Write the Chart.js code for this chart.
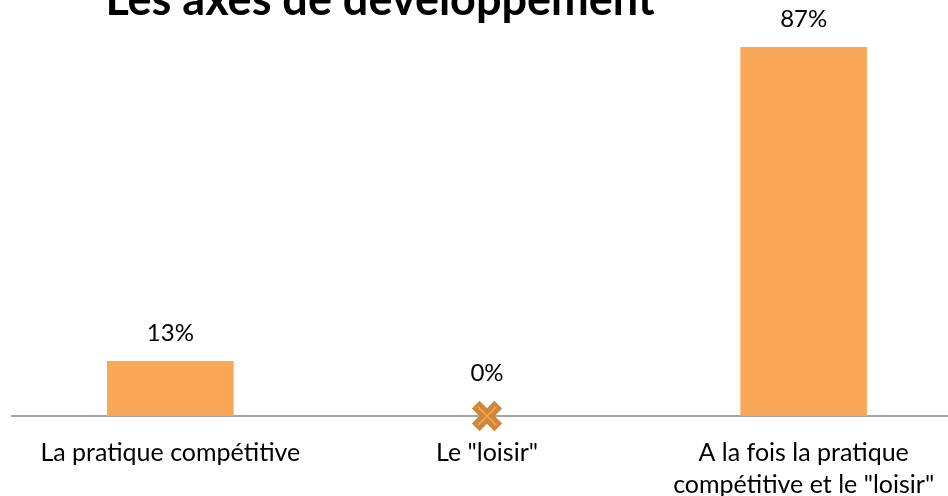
<!DOCTYPE html>
<html>
<head>
<meta charset="utf-8">
<script src="https://cdn.jsdelivr.net/npm/chart.js@4.4.1/dist/chart.umd.min.js"></script>
<style>
html,body{margin:0;padding:0;background:#fff;overflow:hidden;width:948px;height:496px;}
#wrap{position:absolute;left:0;top:-40px;width:1000px;height:536px;}
canvas{display:block;}
</style>
</head>
<body>
<div id="wrap"><canvas id="c" width="1000" height="536"></canvas></div>
<script>
const chartTitle = 'Les axes de développement';
const categories = ['La pratique compétitive', 'Le "loisir"', ['A la fois la pratique', 'compétitive et le "loisir"']];
const barValues = [13, null, 87];
const markerValues = [null, 0, null];
const valueLabels = ['13%', '0%', '87%'];

const FONT = 'Lato, "Open Sans", sans-serif';

const titlePlugin = {
  id: 'customTitle',
  afterDraw(chart) {
    const ctx = chart.ctx;
    ctx.save();
    ctx.font = 'bold 45px ' + FONT;
    ctx.fillStyle = '#000';
    ctx.textAlign = 'center';
    ctx.textBaseline = 'alphabetic';
    ctx.fillText(chartTitle, 380, 55);
    ctx.restore();
  }
};

const labelPlugin = {
  id: 'valueLabels',
  afterDatasetsDraw(chart) {
    const ctx = chart.ctx;
    ctx.save();
    ctx.font = '24px ' + FONT;
    ctx.fillStyle = '#000';
    ctx.textAlign = 'center';
    ctx.textBaseline = 'middle';
    const ds = chart.data.datasets;
    [0, 2].forEach(di => {
      const meta = chart.getDatasetMeta(di);
      meta.data.forEach((el, i) => {
        const v = ds[di].data[i];
        if (v === null || v === undefined) return;
        const off = ds[di].type === 'line' ? 43 : 28;
        ctx.fillText(valueLabels[i], el.x, el.y - off);
      });
    });
    ctx.restore();
  }
};

new Chart(document.getElementById('c'), {
  data: {
    labels: categories,
    datasets: [
      {
        type: 'line',
        data: markerValues,
        showLine: false,
        clip: false,
        pointStyle: 'crossRot',
        pointRadius: 16,
        pointBorderWidth: 11,
        borderColor: '#CF8838',
        backgroundColor: '#CF8838',
        order: 1
      },
      {
        type: 'line',
        data: markerValues,
        showLine: false,
        clip: false,
        pointStyle: 'crossRot',
        pointRadius: 13,
        pointBorderWidth: 1.5,
        borderColor: '#F7A65A',
        backgroundColor: '#F7A65A',
        order: 0
      },
      {
        type: 'bar',
        data: barValues,
        backgroundColor: '#F9A858',
        borderWidth: 0,
        categoryPercentage: 1,
        barPercentage: 0.4,
        order: 2
      }
    ]
  },
  options: {
    responsive: false,
    animation: false,
    devicePixelRatio: 1,
    layout: { autoPadding: false, padding: { left: 12, right: 38, top: 32, bottom: 0 } },
    plugins: { legend: { display: false }, tooltip: { enabled: false }, title: { display: false } },
    scales: {
      y: { display: false, min: 0, max: 100 },
      x: {
        offset: true,
        grid: { display: false, drawTicks: false },
        border: { display: true, color: '#A6A6A6', width: 2 },
        ticks: {
          autoSkip: false, maxRotation: 0, minRotation: 0,
          color: '#000',
          font: { family: FONT, size: 25, lineHeight: 1.28 },
          padding: 21
        },
        afterFit(scale) {
          scale.height = 80;
          scale.paddingLeft = 0;
          scale.paddingRight = 0;
        }
      }
    }
  },
  plugins: [titlePlugin, labelPlugin]
});
</script>
</body>
</html>
